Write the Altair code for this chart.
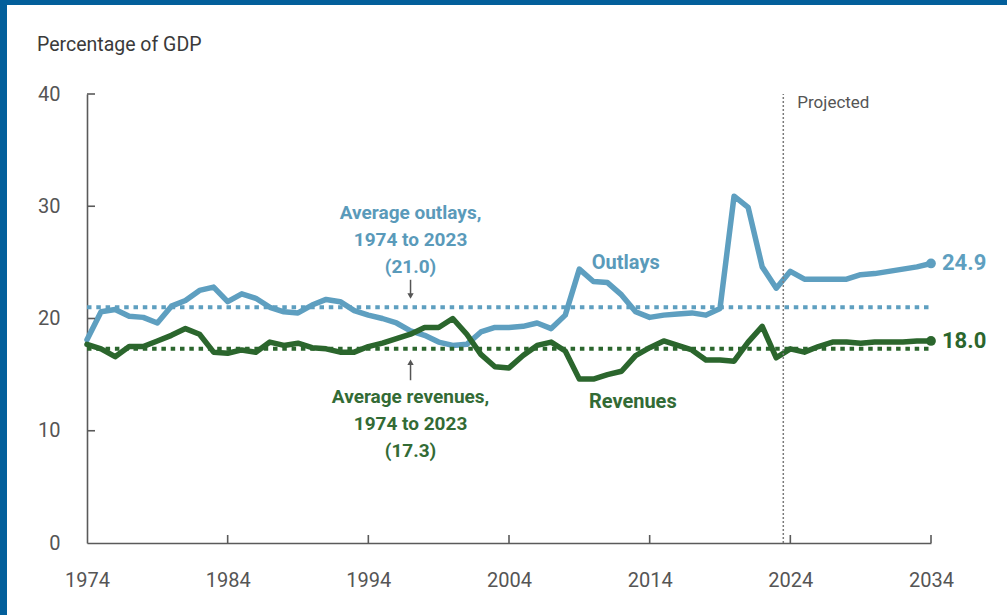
import altair as alt
import pandas as pd

years = list(range(1974, 2035))
outlays = [18.1, 20.6, 20.8, 20.2, 20.1, 19.6, 21.1, 21.6, 22.5, 22.8,
           21.5, 22.2, 21.8, 21.0, 20.6, 20.5, 21.2, 21.7, 21.5, 20.7,
           20.3, 20.0, 19.6, 18.9, 18.5, 17.9, 17.6, 17.7, 18.8, 19.2,
           19.2, 19.3, 19.6, 19.1, 20.3, 24.4, 23.3, 23.2, 22.1, 20.6,
           20.1, 20.3, 20.4, 20.5, 20.3, 20.9, 30.9, 29.9, 24.6, 22.7,
           24.2, 23.5, 23.5, 23.5, 23.5, 23.9, 24.0, 24.2, 24.4, 24.6, 24.9]
revenues = [17.7, 17.3, 16.6, 17.5, 17.5, 18.0, 18.5, 19.1, 18.6, 17.0,
            16.9, 17.2, 17.0, 17.9, 17.6, 17.8, 17.4, 17.3, 17.0, 17.0,
            17.5, 17.8, 18.2, 18.6, 19.2, 19.2, 20.0, 18.6, 16.8, 15.7,
            15.6, 16.7, 17.6, 17.9, 17.1, 14.6, 14.6, 15.0, 15.3, 16.7,
            17.4, 18.0, 17.6, 17.2, 16.3, 16.3, 16.2, 17.9, 19.3, 16.5,
            17.3, 17.0, 17.5, 17.9, 17.9, 17.8, 17.9, 17.9, 17.9, 18.0, 18.0]
avg_outlays = 21.0
avg_revenues = 17.3
x_ticks = [1974, 1984, 1994, 2004, 2014, 2024, 2034]
y_ticks = [0, 10, 20, 30, 40]
projection_start = 2023.5

BLUE_LINE = "#5e9fc0"
BLUE_TEXT = "#5a9aba"
GREEN_LINE = "#2b662d"
GREEN_TEXT = "#336b35"
AXIS = "#5a5a5a"
FONT = "Roboto"
FRAME = "#035f9b"

W, H = 844, 449

df = pd.DataFrame({"year": years, "Outlays": outlays, "Revenues": revenues})
long = df.melt("year", var_name="series", value_name="pct")

xs = alt.Scale(domain=[1974, 2034], nice=False, zero=False)
ys = alt.Scale(domain=[0, 40], nice=False)
cs = alt.Scale(domain=["Outlays", "Revenues"], range=[BLUE_LINE, GREEN_LINE])

x_axis = alt.Axis(values=x_ticks, format="d", title=None, ticks=False, grid=False,
                  labelFlush=False, labelOverlap=False,
                  domainColor=AXIS, domainWidth=1.6, labelFont=FONT, labelFontSize=20,
                  labelColor="#555555", labelPadding=27)
y_axis = alt.Axis(values=y_ticks, title=None, ticks=False, grid=False,
                  labelFlush=False, labelOverlap=False,
                  domainColor=AXIS, domainWidth=1.6, labelFont=FONT, labelFontSize=20,
                  labelColor="#555555", labelPadding=27)


def X(f="year"):
    return alt.X(f"{f}:Q", scale=xs, axis=x_axis)


def Y(f="pct"):
    return alt.Y(f"{f}:Q", scale=ys, axis=y_axis)


ytick = alt.Chart(pd.DataFrame({"pct": y_ticks[1:]})).mark_rule(color=AXIS, strokeWidth=1.6).encode(
    x=alt.value(0), x2=alt.value(8), y=Y())
xtick = alt.Chart(pd.DataFrame({"year": x_ticks[1:]})).mark_rule(color=AXIS, strokeWidth=1.6).encode(
    x=X(), y=alt.value(H), y2=alt.value(H - 8))

proj = alt.Chart(pd.DataFrame({"year": [projection_start], "a": [0], "b": [40]})).mark_rule(
    color="#7a7a7a", strokeWidth=1.5, strokeDash=[2, 2]).encode(
    x=X(), y=Y("a"), y2=alt.Y2("b:Q"))

avg = alt.Chart(pd.DataFrame({"year": [1974, 1974], "b": [2034, 2034],
                              "pct": [avg_outlays, avg_revenues],
                              "series": ["Outlays", "Revenues"]})).mark_rule(
    strokeWidth=4, strokeDash=[4.5, 4.8]).encode(
    x=X(), x2=alt.X2("b:Q"), y=Y(), color=alt.Color("series:N", scale=cs, legend=None))

lines = alt.Chart(long).mark_line(strokeWidth=5.5, strokeJoin="round", strokeCap="round").encode(
    x=X(), y=Y(), color=alt.Color("series:N", scale=cs, legend=None))

last = long[long.year == 2034]
ends = alt.Chart(last).mark_circle(size=95, opacity=1).encode(
    x=X(), y=Y(), color=alt.Color("series:N", scale=cs, legend=None))
end_lbl = alt.Chart(last.assign(lbl=[f"{v:.1f}" for v in last.pct])).mark_text(
    align="left", baseline="middle", dx=11, font=FONT, fontSize=22, fontWeight="bold").encode(
    x=X(), y=Y(), text="lbl:N",
    color=alt.Color("series:N", scale=alt.Scale(domain=["Outlays", "Revenues"],
                                                 range=[BLUE_TEXT, GREEN_TEXT]), legend=None))


def label(year, pct, text, color, size, weight="bold", align="center", dx=0, lh=None):
    kw = dict(align=align, baseline="middle", font=FONT, fontSize=size,
              fontWeight=weight, color=color, dx=dx)
    if lh:
        kw["lineHeight"] = lh
    return alt.Chart(pd.DataFrame({"year": [year], "pct": [pct]})).mark_text(
        text=text, **kw).encode(x=X(), y=Y())


t_avg_out = label(1997.0, 29.4, ["Average outlays,", "1974 to 2023", "(21.0)"], BLUE_TEXT, 19, lh=27)
t_avg_rev = label(1997.0, 13.0, ["Average revenues,", "1974 to 2023", "(17.3)"], GREEN_TEXT, 19, lh=27)
t_out = label(2012.3, 24.9, "Outlays", BLUE_TEXT, 20)
t_rev = label(2012.8, 12.6, "Revenues", GREEN_TEXT, 20)
t_proj = label(projection_start, 39.2, "Projected", "#555555", 17, weight="normal", align="left", dx=14)

arrows = pd.DataFrame({"year": [1997.0, 1997.0], "pct": [23.45, 14.5], "b": [22.1, 16.0]})
arrow_rules = alt.Chart(arrows).mark_rule(color="#555555", strokeWidth=1.5).encode(
    x=X(), y=Y(), y2=alt.Y2("b:Q"))
heads = pd.DataFrame({"year": [1997.0, 1997.0], "pct": [22.0, 16.1],
                      "shape": ["triangle-down", "triangle-up"]})
arrow_heads = alt.Chart(heads).mark_point(filled=True, size=40, color="#555555", opacity=1).encode(
    x=X(), y=Y(), shape=alt.Shape("shape:N", scale=None, legend=None))

title = alt.Chart(pd.DataFrame({"a": [0]})).mark_text(
    text="Percentage of GDP", align="left", baseline="middle", font=FONT, fontSize=19.5,
    color="#3a3a3a").encode(x=alt.value(-50), y=alt.value(-49))

frame_top = alt.Chart(pd.DataFrame({"a": [0]})).mark_rect(color=FRAME).encode(
    x=alt.value(-87), x2=alt.value(1007 - 87), y=alt.value(-94), y2=alt.value(-89))
frame_left = alt.Chart(pd.DataFrame({"a": [0]})).mark_rect(color=FRAME).encode(
    x=alt.value(-87), x2=alt.value(-80), y=alt.value(-94), y2=alt.value(615 - 94))

chart = alt.layer(
    lines, frame_top, frame_left, ytick, xtick, proj, avg, ends, end_lbl,
    t_avg_out, t_avg_rev, t_out, t_rev, t_proj, arrow_rules, arrow_heads, title
).properties(
    width=W, height=H,
    autosize=alt.AutoSizeParams(type="none"),
    padding={"left": 87, "top": 94, "right": 1007 - 87 - W, "bottom": 615 - 94 - H},
    background="white",
).configure_view(stroke=None)

chart.save("out.html", embed_options={"renderer": "svg", "actions": False})
